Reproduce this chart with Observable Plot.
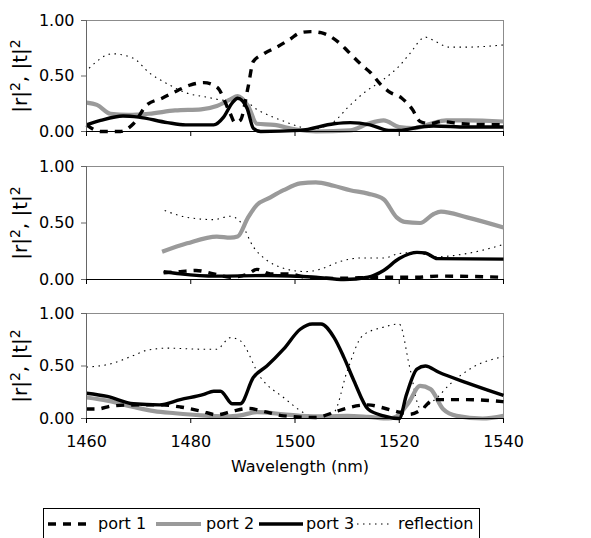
<!DOCTYPE html>
<html><head><meta charset="utf-8">
<script src="https://cdn.jsdelivr.net/npm/d3@7"></script>
<script src="https://cdn.jsdelivr.net/npm/@observablehq/plot@0.6"></script>
<style>
html,body{margin:0;padding:0;background:#fff;overflow:hidden;}
#wrap{position:relative;width:591px;height:538px;font-family:"DejaVu Sans",sans-serif;overflow:hidden;}
#wrap svg{display:block;}
.panel{position:absolute;left:0;}
#legend{position:absolute;left:43px;top:508px;width:437px;height:36px;border:1px solid #000;box-sizing:border-box;}
.lg{position:absolute;top:0;height:30px;line-height:30px;font-size:16px;color:#000;white-space:nowrap;}
.lg svg{position:absolute;top:10px;}
</style></head>
<body><div id="wrap"></div>
<script>
const xTicks = [1460, 1480, 1500, 1520, 1540];
const yTicks = [0, 0.5, 1];
const seriesNames = ["port 1", "port 2", "port 3", "reflection"];
const xLabel = "Wavelength (nm)";
const yLabel = "|r|², |t|²";

// Panel 1 (top)
const top_port1 = [[1460,0.06],[1462.7,0.0],[1466.5,0.0],[1469,0.07],[1471.6,0.24],[1474.5,0.3],[1477.5,0.37],[1480,0.42],[1482.5,0.44],[1485,0.40],[1487.5,0.17],[1488.5,0.08],[1489.5,0.10],[1491,0.40],[1492,0.63],[1494,0.70],[1496.5,0.76],[1499,0.83],[1501,0.89],[1503,0.90],[1505,0.89],[1508.7,0.79],[1510,0.73],[1513,0.59],[1514.5,0.53],[1516.5,0.42],[1518,0.36],[1520.5,0.30],[1522.5,0.20],[1524,0.09],[1526,0.07],[1528,0.09],[1532,0.07],[1540,0.06]];
const top_port2 = [[1460,0.26],[1462,0.24],[1464.6,0.16],[1468,0.15],[1472,0.16],[1477,0.19],[1482,0.20],[1485,0.23],[1487.6,0.29],[1489,0.32],[1491,0.23],[1492.7,0.07],[1496,0.06],[1500,0.02],[1504,0.0],[1510.6,0.01],[1514,0.07],[1517,0.10],[1520,0.04],[1522.7,0.03],[1526,0.07],[1529,0.10],[1533,0.10],[1540,0.09]];
const top_port3 = [[1460,0.06],[1462.7,0.10],[1467,0.14],[1470,0.13],[1475.5,0.08],[1479,0.06],[1484.4,0.06],[1486.3,0.13],[1488,0.26],[1489,0.30],[1490.8,0.21],[1492,0.03],[1493.4,0.0],[1501,0.01],[1507.5,0.07],[1510.6,0.08],[1514.4,0.06],[1518,0.01],[1520,0.01],[1524,0.04],[1526.6,0.05],[1533,0.04],[1540,0.04]];
const top_refl = [[1460.5,0.57],[1465,0.70],[1469,0.66],[1472,0.53],[1475.5,0.43],[1479,0.35],[1483,0.31],[1487,0.28],[1489.5,0.29],[1493,0.19],[1498,0.09],[1501,0.04],[1503,0.02],[1507.5,0.09],[1510,0.21],[1513,0.34],[1517,0.47],[1520,0.59],[1522,0.70],[1525,0.85],[1527,0.81],[1529.5,0.76],[1533,0.76],[1540,0.78]];

// Panel 2 (middle)
const mid_port1 = [[1474.8,0.06],[1478,0.07],[1481,0.08],[1484.4,0.05],[1487.6,0.02],[1491,0.05],[1492.7,0.09],[1495.3,0.05],[1498.5,0.05],[1502.3,0.02],[1507.5,0.01],[1517,0.02],[1523.4,0.02],[1527.3,0.03],[1540,0.02]];
const mid_port2 = [[1474.5,0.245],[1479.3,0.32],[1485,0.38],[1487.6,0.37],[1489,0.38],[1491,0.55],[1492.7,0.66],[1495,0.72],[1497.8,0.79],[1501,0.85],[1504,0.86],[1507.4,0.83],[1510.6,0.79],[1514,0.76],[1517,0.71],[1519.5,0.55],[1521,0.51],[1524,0.50],[1526.6,0.58],[1528,0.60],[1533,0.55],[1540,0.46]];
const mid_port3 = [[1474.8,0.07],[1478,0.05],[1485,0.03],[1494.6,0.035],[1504,0.02],[1509.4,0.0],[1514,0.02],[1517,0.08],[1520,0.185],[1523.4,0.24],[1525,0.235],[1527.3,0.185],[1540,0.18]];
const mid_refl = [[1475,0.61],[1479.3,0.55],[1484.4,0.53],[1487.6,0.56],[1489.5,0.51],[1492,0.29],[1494.6,0.17],[1497.8,0.10],[1502,0.07],[1504.8,0.09],[1508.7,0.16],[1512.5,0.19],[1517,0.19],[1520,0.23],[1523.4,0.24],[1526.6,0.20],[1533,0.23],[1540,0.31]];

// Panel 3 (bottom)
const bot_port1 = [[1460,0.09],[1462,0.09],[1465,0.12],[1470,0.13],[1474,0.13],[1478,0.11],[1482,0.07],[1485,0.035],[1488,0.07],[1491,0.095],[1494.6,0.06],[1497.8,0.025],[1504,0.01],[1507.5,0.06],[1510,0.10],[1514,0.13],[1517,0.10],[1520,0.06],[1522,0.04],[1524.4,0.09],[1526.6,0.18],[1533,0.18],[1540,0.16]];
const bot_port2 = [[1460,0.20],[1464,0.17],[1469,0.11],[1473,0.07],[1477,0.05],[1482,0.03],[1487,0.02],[1489.5,0.03],[1492.7,0.06],[1497.8,0.04],[1501,0.025],[1506,0.02],[1510,0.025],[1514,0.015],[1518,0.0],[1520,0.04],[1521.8,0.15],[1524,0.31],[1526,0.28],[1528.4,0.09],[1531,0.025],[1536,0.0],[1540,0.025]];
const bot_port3 = [[1460,0.24],[1464,0.21],[1469,0.14],[1474,0.13],[1478,0.18],[1482.5,0.23],[1484.4,0.26],[1485.7,0.26],[1488,0.14],[1489.5,0.14],[1492,0.39],[1494.6,0.50],[1497.8,0.66],[1501,0.85],[1503.3,0.90],[1505,0.90],[1507.5,0.77],[1509.4,0.58],[1511.3,0.36],[1514,0.09],[1517,0.025],[1520,0.0],[1521.4,0.23],[1523.4,0.47],[1525,0.50],[1527.6,0.44],[1533,0.34],[1540,0.22]];
const bot_refl = [[1460,0.49],[1464.6,0.52],[1469,0.60],[1471.6,0.65],[1475.5,0.67],[1482,0.66],[1485,0.66],[1487.6,0.77],[1489.5,0.74],[1493.4,0.39],[1497.8,0.20],[1502.3,0.04],[1505,0.01],[1507.5,0.06],[1510,0.45],[1513,0.79],[1517,0.87],[1520,0.90],[1522,0.49],[1524,0.10],[1526.6,0.17],[1529.8,0.33],[1534.2,0.49],[1540,0.59]];

const styles = {
  "port 1": {stroke:"#000", strokeWidth:3.4, strokeDasharray:"8,7"},
  "port 2": {stroke:"#9a9a9a", strokeWidth:4.2},
  "port 3": {stroke:"#000", strokeWidth:3.4},
  "reflection": {stroke:"#000", strokeWidth:1.1, strokeDasharray:"1.5,4.5"}
};

const FONT = '"DejaVu Sans", sans-serif';

function panel(series, top, frameH, marginBottom, showX) {
  const lines = [["reflection", series[3]], ["port 2", series[1]], ["port 1", series[0]], ["port 3", series[2]]]
    .map(([name, data]) => Plot.line(data, {x: d => d[0], y: d => d[1], curve: "monotone-x", strokeLinecap: "butt", ...styles[name]}));
  const marks = [
    Plot.frame({stroke: "#8c8c8c"}),
    ...lines,
    Plot.ruleY([0], {stroke: "#000"}),
    Plot.ruleX([1460], {stroke: "#666"}),
    Plot.axisY({ticks: yTicks, tickFormat: d3.format(".2f"), tickSize: 5, tickPadding: 7, label: null, stroke: "#666", fill: "#000", fontSize: 16}),
    Plot.axisX({ticks: xTicks, tickSize: 5, tickPadding: 12, label: null, stroke: "#000", fill: "#000", fontSize: 16, tickFormat: showX ? (d => String(d)) : (() => "")}),
    Plot.text([yLabel], {frameAnchor: "left", dx: -66, rotate: -90, textAnchor: "middle", fontSize: 20, fill: "#000"})
  ];
  if (showX) marks.push(Plot.text([xLabel], {frameAnchor: "bottom", dx: 5, dy: 53, textAnchor: "middle", fontSize: 16, fill: "#000"}));
  const svg = Plot.plot({
    width: 591, height: 20 + frameH + marginBottom,
    marginLeft: 86, marginRight: 88, marginTop: 20, marginBottom,
    style: {fontFamily: FONT, fontSize: "16px", color: "#000", background: "transparent", overflow: "visible"},
    x: {domain: [1460, 1540]},
    y: {domain: [0, 1]},
    marks
  });
  // render the squared exponents of the y label as raised superscripts
  svg.querySelectorAll("text").forEach(t => {
    if (t.textContent === yLabel) {
      const parts = yLabel.split("²");
      t.textContent = "";
      const ns = "http://www.w3.org/2000/svg";
      parts.forEach((p, i) => {
        if (p) {
          const a = document.createElementNS(ns, "tspan");
          a.textContent = p;
          if (i > 0) a.setAttribute("dy", "7");
          t.appendChild(a);
        }
        if (i < parts.length - 1) {
          const s = document.createElementNS(ns, "tspan");
          s.textContent = "2";
          s.setAttribute("font-size", "14");
          s.setAttribute("dy", "-7");
          t.appendChild(s);
        }
      });
    }
  });
  svg.classList.add("panel");
  svg.style.top = top + "px";
  return svg;
}

const wrap = document.getElementById("wrap");
wrap.appendChild(panel([top_port1, top_port2, top_port3, top_refl], 0, 111, 15, false));
wrap.appendChild(panel([mid_port1, mid_port2, mid_port3, mid_refl], 146, 113, 14, false));
wrap.appendChild(panel([bot_port1, bot_port2, bot_port3, bot_refl], 293, 105, 62, true));

// legend
const legend = document.createElement("div");
legend.id = "legend";
const lgPos = [[4, 43, 54], [112, 45, 162], [215, 44, 262], [313, 34, 354]];
seriesNames.forEach((name, i) => {
  const [x0, sw, tx] = lgPos[i];
  const s = styles[name];
  const item = document.createElement("div");
  item.className = "lg";
  item.style.left = x0 + "px";
  item.innerHTML = `<svg width="${sw}" height="10"><line x1="0" y1="5" x2="${sw}" y2="5" stroke="${s.stroke}" stroke-width="${s.strokeWidth}" ${s.strokeDasharray ? `stroke-dasharray="${s.strokeDasharray}"` : ""}/></svg><span style="position:absolute;left:${tx - x0}px">${name}</span>`;
  legend.appendChild(item);
});
wrap.appendChild(legend);
</script></body></html>
